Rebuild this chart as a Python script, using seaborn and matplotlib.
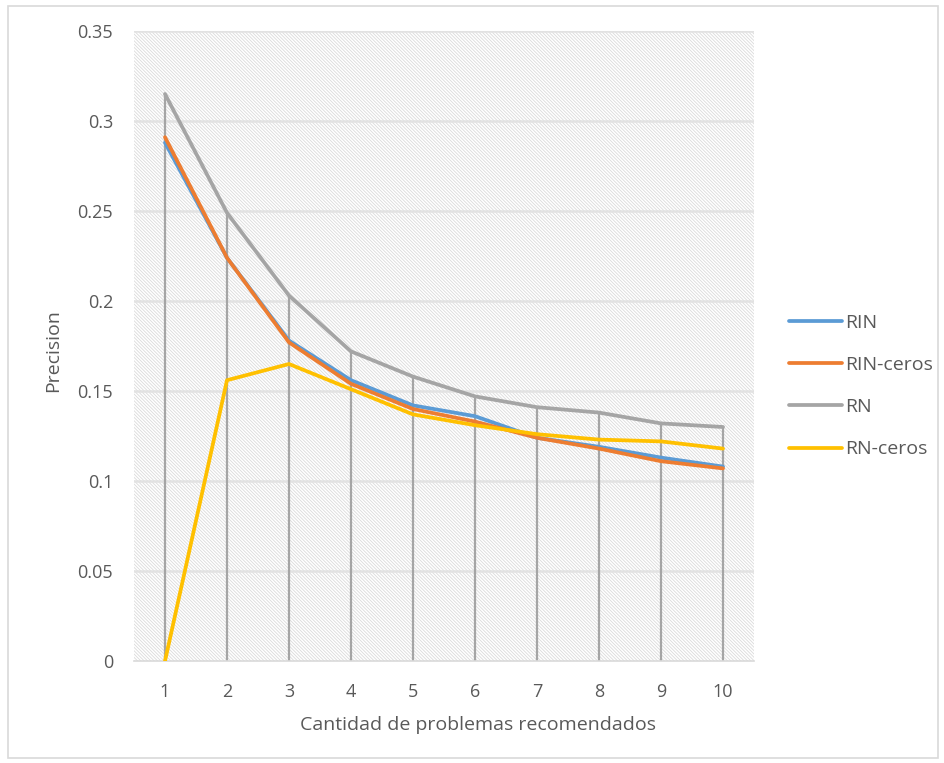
import numpy as np
import pandas as pd
import matplotlib
matplotlib.use("Agg")
import matplotlib.pyplot as plt
import matplotlib.patches as mpatches
import seaborn as sns

# Precision at k for each recommender variant
k_values = [1, 2, 3, 4, 5, 6, 7, 8, 9, 10]
rin = [0.288, 0.224, 0.178, 0.156, 0.142, 0.136, 0.124, 0.119, 0.113, 0.108]
rin_ceros = [0.291, 0.224, 0.177, 0.154, 0.140, 0.133, 0.124, 0.118, 0.111, 0.107]
rn = [0.315, 0.249, 0.203, 0.172, 0.158, 0.147, 0.141, 0.138, 0.132, 0.130]
rn_ceros = [0.0, 0.156, 0.165, 0.151, 0.137, 0.131, 0.126, 0.123, 0.122, 0.118]

series_names = ["RIN", "RIN-ceros", "RN", "RN-ceros"]
series_values = [rin, rin_ceros, rn, rn_ceros]
colors = ["#5B9BD5", "#ED7D31", "#A5A5A5", "#FFC000"]

y_ticks = [0, 0.05, 0.1, 0.15, 0.2, 0.25, 0.3, 0.35]
y_tick_labels = ["0", "0.05", "0.1", "0.15", "0.2", "0.25", "0.3", "0.35"]

df = pd.DataFrame({
    "k": np.tile(k_values, len(series_names)),
    "precision": np.concatenate(series_values),
    "serie": np.repeat(series_names, len(k_values)),
})

sns.set_theme(style="white")
plt.rcParams["font.family"] = ["Open Sans", "DejaVu Sans"]
plt.rcParams["hatch.linewidth"] = 0.6
plt.rcParams["hatch.color"] = "#DADADA"

text_color = "#595959"
grid_color = "#E2E2E2"

fig = plt.figure(figsize=(9.45, 7.63), dpi=100)
ax = fig.add_axes([134 / 945, 1 - 661 / 763, 620 / 945, 630 / 763])

# hatched plot area background
ax.patch.set_facecolor("white")
bg = mpatches.Rectangle((0, 0), 1, 1, transform=ax.transAxes, facecolor="white",
                        edgecolor="#DADADA", hatch="\\" * 10, linewidth=0, zorder=0)
ax.add_patch(bg)

# horizontal gridlines
for yv in y_ticks[1:]:
    ax.axhline(yv, color=grid_color, lw=1.8, zorder=1)

# drop lines from the axis up to the highest series at each k
tops = np.max(np.array(series_values), axis=0)
ax.vlines(k_values, 0, tops, color="#A5A5A5", lw=1.6, zorder=2)

sns.lineplot(data=df, x="k", y="precision", hue="serie", hue_order=series_names,
             palette=colors, linewidth=2.7, ax=ax, legend=False, zorder=3)

ax.set_xlim(0.5, 10.5)
ax.set_ylim(0, 0.35)
ax.set_xticks(k_values)
ax.set_xticklabels([str(k) for k in k_values])
ax.set_yticks(y_ticks)
ax.set_yticklabels(y_tick_labels)
ax.tick_params(axis="both", length=0, labelsize=13, colors=text_color)
ax.tick_params(axis="y", pad=15)
ax.tick_params(axis="x", pad=16)

for side in ["top", "right", "left"]:
    ax.spines[side].set_visible(False)
ax.spines["bottom"].set_color("#D9D9D9")
ax.spines["bottom"].set_linewidth(1.2)

ax.set_xlabel("Cantidad de problemas recomendados", fontsize=14, color=text_color,
              va="center")
ax.set_ylabel("Precision", fontsize=14, color=text_color, va="center")
ax.xaxis.set_label_coords((478 - 134) / 620, (661 - 725) / 630)
ax.yaxis.set_label_coords((53 - 134) / 620, (661 - 351) / 630)

handles = [plt.Line2D([0], [0], color=c, lw=2.7) for c in colors]
leg = fig.legend(handles, series_names, loc="center left",
                 bbox_to_anchor=(772 / 945, 1 - 386 / 763), frameon=False,
                 fontsize=14, labelspacing=1.25, handlelength=2.7, handletextpad=0.15)
for t in leg.get_texts():
    t.set_color(text_color)

# outer chart border
fig.patches.append(mpatches.Rectangle((8 / 945, 5 / 763), 930 / 945, 752 / 763,
                                      transform=fig.transFigure, fill=False,
                                      edgecolor="#D9D9D9", lw=1.2))

fig.savefig("out.png", dpi=100)
